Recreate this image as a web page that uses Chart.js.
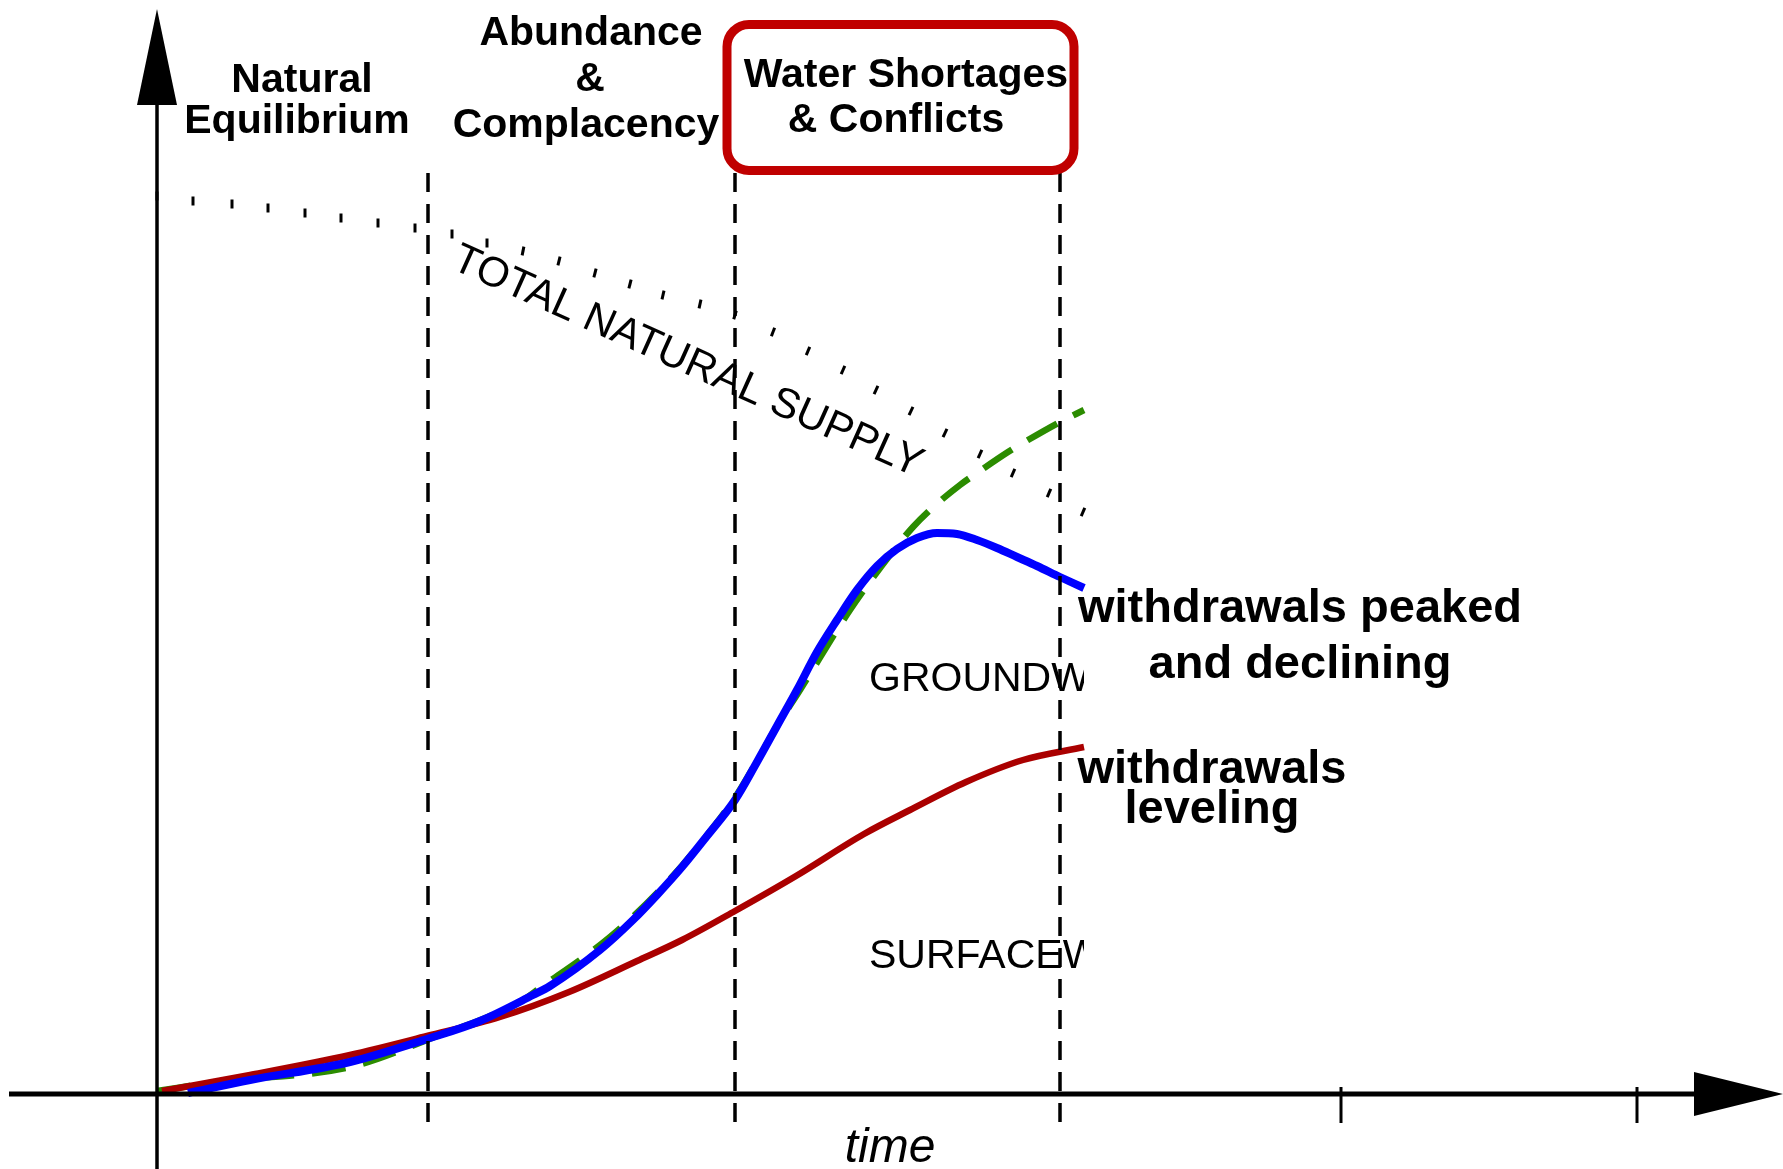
<!DOCTYPE html>
<html>
<head>
<meta charset="utf-8">
<script src="https://cdn.jsdelivr.net/npm/chart.js@4.4.1/dist/chart.umd.min.js"></script>
<style>
  html, body { margin: 0; padding: 0; background: #ffffff; }
  #wrap { width: 1783px; height: 1169px; position: relative; }
</style>
</head>
<body>
<div id="wrap"><canvas id="c"></canvas></div>
<script>
// ---- data (time in arbitrary units, water volume in arbitrary units) ----
const SUPPLY_TIME = [0, 3.6, 7.5, 11.1, 14.8, 18.4, 22.1, 25.8, 29.5, 33.0, 36.6, 40.2, 43.8, 47.3, 50.6, 54.3, 57.8, 61.6, 65.1, 68.6, 71.9, 75.4, 78.8, 82.3, 85.6, 89.2, 92.6];
const SUPPLY = [89.8, 89.3, 89.0, 88.6, 88.1, 87.6, 87.1, 86.6, 86.0, 85.1, 84.3, 83.3, 82.1, 81.0, 79.9, 79.0, 77.9, 76.2, 74.3, 72.4, 70.4, 68.3, 66.1, 64.0, 62.1, 60.1, 58.2];

const DEMAND_TIME = [0, 6.0, 19.3, 27.0, 36.6, 38.3, 45.3, 50.3, 54.3, 57.7, 60.0, 62.0, 64.3, 69.3, 73.3, 75.6, 77.3, 80.3, 82.0, 85.1, 87.1, 90.3, 92.7];
const DEMAND = [0.3, 1.2, 2.7, 5.4, 9.4, 10.6, 15.7, 20.4, 25.0, 29.5, 33.3, 36.8, 40.4, 48.4, 53.9, 56.7, 58.4, 60.9, 62.1, 64.2, 65.4, 67.2, 68.4];

const GROUND_TIME = [3.1, 9.3, 19.3, 27.0, 32.3, 37.6, 39.3, 44.3, 47.6, 50.0, 52.5, 55.0, 57.8, 60.0, 62.0, 64.0, 66.0, 68.0, 70.0, 72.0, 74.0, 76.0, 78.0, 80.0, 82.0, 84.0, 86.0, 88.0, 90.3, 92.7];
const GROUND = [0.1, 1.4, 3.2, 5.5, 7.3, 9.9, 10.8, 14.4, 17.4, 19.9, 22.7, 25.8, 29.4, 33.2, 36.8, 40.4, 44.2, 47.4, 50.4, 52.8, 54.5, 55.6, 56.1, 56.0, 55.4, 54.6, 53.7, 52.8, 51.7, 50.6];

const SURFACE_TIME = [0.5, 9.3, 19.3, 27.0, 34.3, 41.2, 48.0, 52.5, 57.8, 63.9, 70.7, 75.3, 80.9, 86.6, 92.7];
const SURFACE = [0.3, 1.9, 3.9, 5.8, 7.7, 10.2, 13.3, 15.4, 18.3, 21.8, 26.0, 28.4, 31.2, 33.4, 34.7];

// phase boundaries and extra time ticks
const PHASE_BOUNDS = [27.1, 57.8, 90.3];
const TIME_TICKS = [118.4, 148];
const VIEW_END = 92.7;   // the drawn period ends here

const FONT = "'Liberation Sans', Arial, Helvetica, sans-serif";

const pts = (xs, ys) => xs.map((x, i) => ({ x: x, y: ys[i] }));

// ---- decorations: axes, phase lines, labels ----
const decorations = {
  id: 'decorations',
  afterDatasetsDraw(chart) {
    const ctx = chart.ctx;
    const xs = chart.scales.x, ys = chart.scales.y;
    const W = chart.width, H = chart.height;
    const x0 = xs.getPixelForValue(0), y0 = ys.getPixelForValue(0);

    ctx.save();
    // phase boundaries
    ctx.strokeStyle = '#000';
    ctx.lineWidth = 3.5;
    ctx.setLineDash([19, 12]);
    PHASE_BOUNDS.forEach(t => {
      const px = Math.round(xs.getPixelForValue(t));
      ctx.beginPath();
      ctx.moveTo(px, ys.getPixelForValue(92.1));
      ctx.lineTo(px, ys.getPixelForValue(-2.8));
      ctx.stroke();
    });
    ctx.setLineDash([]);

    // x axis
    ctx.lineWidth = 5;
    ctx.beginPath();
    ctx.moveTo(9, y0);
    ctx.lineTo(W - 60, y0);
    ctx.stroke();
    ctx.beginPath();
    ctx.moveTo(W, y0);
    ctx.lineTo(W - 89, y0 - 22);
    ctx.lineTo(W - 89, y0 + 22);
    ctx.closePath();
    ctx.fillStyle = '#000';
    ctx.fill();

    // extra time ticks
    ctx.lineWidth = 3;
    TIME_TICKS.forEach(t => {
      const px = Math.round(xs.getPixelForValue(t));
      ctx.beginPath();
      ctx.moveTo(px, ys.getPixelForValue(0.7));
      ctx.lineTo(px, ys.getPixelForValue(-2.9));
      ctx.stroke();
    });

    // y axis
    ctx.lineWidth = 3.5;
    ctx.beginPath();
    ctx.moveTo(x0, H);
    ctx.lineTo(x0, 80);
    ctx.stroke();
    ctx.beginPath();
    ctx.moveTo(x0, 9);
    ctx.lineTo(x0 - 20, 105);
    ctx.lineTo(x0 + 20, 105);
    ctx.closePath();
    ctx.fill();

    // phase titles
    ctx.fillStyle = '#000';
    ctx.textBaseline = 'alphabetic';
    ctx.textAlign = 'center';
    ctx.font = 'bold 41px ' + FONT;
    ctx.fillText('Natural', 302, 92);
    ctx.fillText('Equilibrium', 297, 133);
    ctx.fillText('Abundance', 591, 45);
    ctx.fillText('&', 590, 91);
    ctx.fillText('Complacency', 586, 137);
    ctx.fillText('Water Shortages', 906, 87);
    ctx.fillText('& Conflicts', 896, 132);

    // highlighted phase box
    ctx.strokeStyle = '#c00000';
    ctx.lineWidth = 9;
    ctx.beginPath();
    ctx.roundRect(727, 24.5, 347, 146, 22);
    ctx.stroke();

    // curve labels
    ctx.font = 'bold 47px ' + FONT;
    ctx.fillText('withdrawals peaked', 1300, 622);
    ctx.fillText('and declining', 1300, 678);
    ctx.fillText('withdrawals', 1212, 783);
    ctx.fillText('leveling', 1212, 823);

    // time label
    ctx.font = 'italic 48px ' + FONT;
    ctx.fillText('time', 890, 1162);

    // labels inside the drawn period (cut at its end)
    ctx.save();
    ctx.beginPath();
    ctx.rect(x0, 0, xs.getPixelForValue(VIEW_END) - x0, H);
    ctx.clip();
    ctx.textAlign = 'left';
    ctx.font = '41px ' + FONT;
    ctx.fillText('GROUNDWATER', 869, 691);
    ctx.fillText('SURFACEWATER', 869, 968);
    ctx.restore();

    // supply label along the curve
    ctx.save();
    ctx.translate(450, 268);
    ctx.rotate(24.2 * Math.PI / 180);
    ctx.textAlign = 'left';
    ctx.font = '42px ' + FONT;
    ctx.fillText('TOTAL NATURAL SUPPLY', 0, 0);
    ctx.restore();

    ctx.restore();
  }
};

function markRotation(c) {
  if (c.type !== 'data') return 90;
  const d = c.dataset.data, i = c.dataIndex;
  const xs = c.chart.scales.x, ys = c.chart.scales.y;
  const a = d[Math.max(0, i - 1)], b = d[Math.min(d.length - 1, i + 1)];
  const ang = Math.atan2(ys.getPixelForValue(b.y) - ys.getPixelForValue(a.y),
                         xs.getPixelForValue(b.x) - xs.getPixelForValue(a.x)) * 180 / Math.PI;
  return ang > 14 ? 90 + ang * 0.8 : 90;
}

new Chart(document.getElementById('c'), {
  type: 'line',
  data: {
    datasets: [
      {
        label: 'Groundwater withdrawals',
        data: pts(GROUND_TIME, GROUND),
        borderColor: '#0000ff',
        borderWidth: 8,
        pointRadius: 0,
        cubicInterpolationMode: 'monotone',
        borderCapStyle: 'butt',
        order: 0,
        clip: false
      },
      {
        label: 'Surface water withdrawals',
        data: pts(SURFACE_TIME, SURFACE),
        borderColor: '#aa0000',
        borderWidth: 6.5,
        pointRadius: 0,
        cubicInterpolationMode: 'monotone',
        order: 1,
        clip: false
      },
      {
        label: 'Total demand',
        data: pts(DEMAND_TIME, DEMAND),
        borderColor: '#2b8c00',
        borderWidth: 6.5,
        borderDash: [34, 18],
        pointRadius: 0,
        cubicInterpolationMode: 'monotone',
        order: 2,
        clip: false
      },
      {
        label: 'Total natural supply',
        data: pts(SUPPLY_TIME, SUPPLY),
        showLine: false,
        pointStyle: 'line',
        pointRadius: 4.5,
        pointBorderWidth: 3,
        pointBorderColor: '#000',
        pointRotation: markRotation,
        order: 3,
        clip: false
      }
    ]
  },
  options: {
    responsive: true,
    maintainAspectRatio: false,
    animation: false,
    devicePixelRatio: 1,
    layout: { padding: { left: 157, right: 146, top: 94, bottom: 75 } },
    scales: {
      x: { type: 'linear', min: 0, max: 148, display: false },
      y: { type: 'linear', min: 0, max: 100, display: false }
    },
    plugins: {
      legend: { display: false },
      tooltip: { enabled: false }
    },
    events: []
  },
  plugins: [decorations]
});
</script>
</body>
</html>
